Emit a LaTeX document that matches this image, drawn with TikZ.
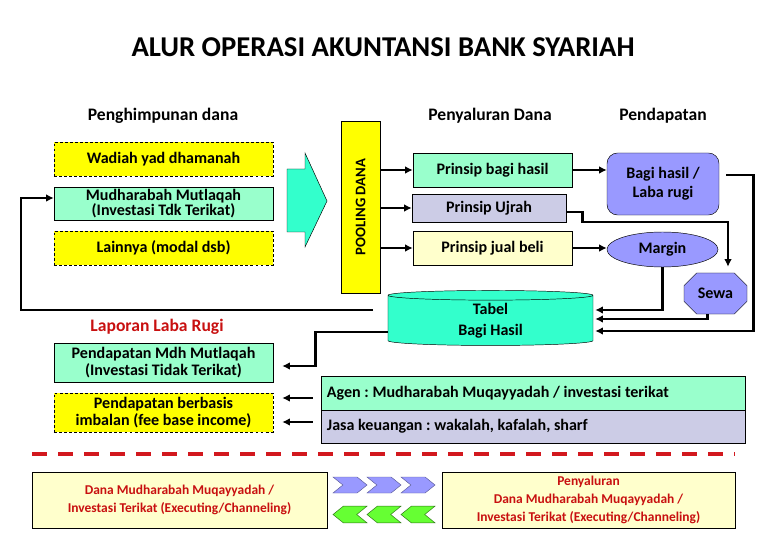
\documentclass[tikz,border=0pt]{standalone}
\usepackage{fontspec}
\setmainfont{Carlito}
\usepackage{tikz}
\usetikzlibrary{arrows.meta, positioning, calc, shapes.geometric, shapes.misc, shapes.symbols}
\definecolor{cyellow}{RGB}{255,255,0}
\definecolor{cmint}  {RGB}{153,255,204}
\definecolor{caqua}  {RGB}{51,255,204}
\definecolor{clav}   {RGB}{204,204,230}
\definecolor{cpale}  {RGB}{255,255,204}
\definecolor{cperi}  {RGB}{153,153,255}
\definecolor{clime}  {RGB}{102,255,51}
\definecolor{cred}   {RGB}{200,16,16}
\definecolor{cdash}  {RGB}{210,24,30}
\frenchspacing
\newcommand{\bodyfont}{\fontsize{13.7}{14}\selectfont\bfseries}
\newcommand{\headfont}{\fontsize{15}{17}\selectfont\bfseries}
\newcommand{\footfont}{\fontsize{11.5}{15.5}\selectfont\bfseries}
\tikzset{
  fbox/.style={rectangle, draw=black, fill=#1, thin,
               font=\bodyfont, align=center, inner sep=0pt},
  dbox/.style={fbox=#1, dash pattern=on 2.5pt off 1.8pt},
  hdr/.style={font=\headfont},
  arr/.style={-{Latex[length=6.5pt,width=6.5pt]}, line width=2.2pt},
  chevb/.style={signal, signal from=west, signal to=east, signal pointer angle=78,
                draw=cperi!60!black, fill=cperi, minimum width=1.02cm,
                minimum height=0.48cm, inner sep=0pt},
  chevg/.style={signal, signal from=east, signal to=west, signal pointer angle=78,
                draw=clime!45!black, fill=clime, minimum width=1.02cm,
                minimum height=0.5cm, inner sep=0pt},
}

\begin{document}
\begin{tikzpicture}[x=0.03cm, y=-0.03cm]
  \useasboundingbox (0,0) rectangle (780,540);

  % ── Title and column heads ─────────────────────────────────────────────────
  \node[font=\fontsize{24.5}{27}\selectfont\bfseries] (title) at (383,47)
      {ALUR OPERASI AKUNTANSI BANK SYARIAH};
  \node[hdr] (hhimpun) at (163,116) {Penghimpunan dana};
  \node[hdr] (hsalur)  at (490,116) {Penyaluran Dana};
  \node[hdr] (hdapat)  at (663,116) {Pendapatan};

  % ── Penghimpunan dana ──────────────────────────────────────────────────────
  \node[dbox=cyellow, minimum width=6.57cm, minimum height=1.02cm] (wadiah)
      at (163.5,159) {Wadiah yad dhamanah};
  \node[fbox=cmint, minimum width=6.57cm, minimum height=0.99cm,
        font=\fontsize{13.7}{13}\selectfont\bfseries] (mutlaqah)
      at (163.5,203.5) {Mudharabah Mutlaqah\\(Investasi Tdk Terikat)};
  \node[dbox=cyellow, minimum width=6.57cm, minimum height=1.02cm] (lainnya)
      at (163.5,248) {Lainnya (modal dsb)};

  \draw[thin, fill=caqua] (287,169) -- (305,169) -- (305,153) -- (327,201)
      -- (305,247) -- (305,232) -- (287,232) -- cycle;

  % ── Pooling dana ───────────────────────────────────────────────────────────
  \node[fbox=cyellow, minimum width=1.17cm, minimum height=5.16cm] (pool)
      at (360.5,207) {};
  \node[rotate=90, font=\fontsize{12.5}{14}\selectfont\bfseries] (poollbl)
      at (pool) {POOLING DANA};

  % ── Penyaluran dana ────────────────────────────────────────────────────────
  \node[fbox=cmint, minimum width=4.77cm, minimum height=1.02cm] (bagi)
      at (492.5,170) {Prinsip bagi hasil};
  \node[fbox=clav, minimum width=4.62cm, minimum height=0.84cm] (ujrah)
      at (489,208) {Prinsip Ujrah};
  \node[fbox=cpale, minimum width=4.77cm, minimum height=1.02cm] (jual)
      at (492.5,248) {Prinsip jual beli};

  % ── Pendapatan ─────────────────────────────────────────────────────────────
  \node[fbox=cperi, rounded corners=9pt, minimum width=3.36cm,
        minimum height=1.86cm, font=\fontsize{13.7}{16}\selectfont\bfseries]
      (bhasil) at (663,184) {Bagi hasil /\\Laba rugi};
  \node[fbox=cperi, ellipse, minimum width=3.33cm, minimum height=1.05cm]
      (margin) at (662.5,249.5) {Margin};
  \node[fbox=cperi, chamfered rectangle, chamfered rectangle xsep=0.22cm,
        chamfered rectangle ysep=0.22cm, minimum width=1.89cm,
        minimum height=1.23cm] (sewa) at (715.5,293.5) {Sewa};

  \node[fbox=caqua, cylinder, shape border rotate=90, aspect=0.15,
        minimum width=6.15cm, minimum height=1.65cm,
        font=\fontsize{13.7}{18}\selectfont\bfseries] (tabel)
      at (490.5,320.5) {Tabel\\Bagi Hasil};

  % ── Laporan laba rugi ──────────────────────────────────────────────────────
  \node[font=\headfont, text=cred] (laporan) at (157,327) {Laporan Laba Rugi};
  \node[fbox=cmint, minimum width=6.57cm, minimum height=1.17cm] (pendmdh)
      at (163.5,362.5) {Pendapatan Mdh Mutlaqah\\(Investasi Tidak Terikat)};
  \node[dbox=cyellow, minimum width=6.57cm, minimum height=1.17cm] (pendfee)
      at (163.5,412.5) {Pendapatan berbasis\\imbalan (fee base income)};

  \node[fbox=cmint, minimum width=12.72cm, minimum height=1.02cm,
        text width=12.36cm, align=flush left] (agen) at (533,393)
      {Agen : Mudharabah Muqayyadah / investasi terikat};
  \node[fbox=clav, minimum width=12.72cm, minimum height=0.99cm,
        text width=12.36cm, align=flush left] (jasa) at (533,426.5)
      {Jasa keuangan : wakalah, kafalah, sharf};

  % ── Investasi terikat ──────────────────────────────────────────────────────
  \draw[cdash, line width=3.4pt, dash pattern=on 12.8pt off 9.4pt]
      (32,454) -- (735,454);

  \node[fbox=cpale, font=\footfont, text=cred, minimum width=8.85cm,
        minimum height=1.68cm] (danamq) at (179.5,500)
      {Dana Mudharabah Muqayyadah /\\Investasi Terikat (Executing/Channeling)};
  \node[fbox=cpale, font=\footfont, text=cred, minimum width=8.79cm,
        minimum height=1.68cm] (salurmq) at (588.5,500)
      {Penyaluran\\Dana Mudharabah Muqayyadah /\\Investasi Terikat (Executing/Channeling)};

  \foreach \i in {0,1,2} {
    \node[chevb] (chb\i) at ({350+34*\i},485) {};
    \node[chevg] (chg\i) at ({350+34*\i},514.5) {};
  }

  % ── Arrows ─────────────────────────────────────────────────────────────────
  \coordinate (fb) at (373,310);
  \draw[arr] (fb) -- ++(-352,0) |- ($(mutlaqah.west)+(0,-5.5)$);
  \draw[arr] (pool.east |- bagi)  -- (bagi);
  \draw[arr] (pool.east |- ujrah) -- (ujrah);
  \draw[arr] (pool.east |- jual)  -- (jual);
  \draw[arr] (bagi.east) -- (bagi.east -| bhasil.west);
  \draw[arr] (jual.east) -- (jual.east -| margin.west);
  \draw[arr] ($(ujrah.east)+(0,4)$) -- ++(16,0) -- ++(0,10)
      -| ($(sewa.north)+(12.5,-6)$);
  \draw[arr] (margin.south) |- ($(tabel.east)+(2,-10.5)$);
  \draw[arr] ($(sewa.south)+(-8,0)$) |- ($(tabel.east)+(2,-1.5)$);
  \draw[arr] ($(bhasil.east)+(7,-9)$) -- ++(27,0) |- ($(tabel.east)+(2,10.5)$);
  \draw[arr] ($(tabel.west)+(0,11.5)$) -- ++(-72,0) |- ($(pendmdh.east)+(9,3.5)$);
  \draw[arr] ($(agen.west)+(-8,5)$) -- ($(pendfee.east)+(9,-14.5)$);
  \draw[arr] ($(jasa.west)+(-8,-4.5)$) -- ($(pendfee.east)+(9,9.5)$);
\end{tikzpicture}
\end{document}
